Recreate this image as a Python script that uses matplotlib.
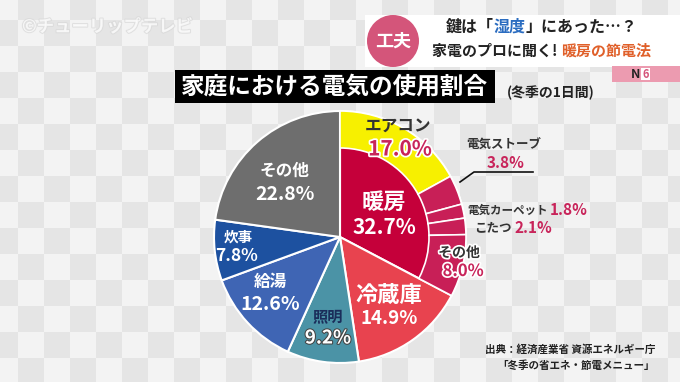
import matplotlib
matplotlib.use('Agg')
import matplotlib.pyplot as plt
import matplotlib.patheffects as pe
from matplotlib.patches import Rectangle, Circle
import numpy as np

plt.rcParams['font.family'] = ['Noto Sans CJK JP', 'DejaVu Sans']
plt.rcParams['font.weight'] = 'bold'

# Data
main_labels = ['暖房', '冷蔵庫', '照明', '給湯', '炊事', 'その他']
main_values = [32.7, 14.9, 9.2, 12.6, 7.8, 22.8]
main_colors = ['#c5003a', '#e8434f', '#4b93a6', '#3f65b4', '#1d51a0', '#6e6e6e']

heat_labels = ['エアコン', '電気ストーブ', '電気カーペット', 'こたつ', 'その他']
heat_values = [17.0, 3.8, 1.8, 2.1, 8.0]
heat_colors = ['#f7f000', '#c81f57', '#c81f57', '#c81f57', '#c81f57']

W, H = 680, 382
MAGENTA = '#c8245a'
DARK = '#333333'


def Y(y):
    # image row -> data y
    return H - y


fig = plt.figure(figsize=(6.8, 3.82), dpi=100)
ax = fig.add_axes([0, 0, 1, 1])

# checker background
sq = 26
ny, nx = H // sq + 2, W // sq + 2
chk = (np.indices((ny, nx)).sum(axis=0) % 2).astype(float)
ax.imshow(chk, cmap=matplotlib.colors.ListedColormap(['#f3f3f3', '#e5e5e5']),
          extent=(-8, -8 + nx * sq, H + 6 - ny * sq, H + 6), origin='upper',
          interpolation='nearest', zorder=0)

# Pie
cx, cy, R = 340, Y(237), 126
r_in = 89
ax.pie(main_values, colors=main_colors, startangle=90, counterclock=False,
       radius=R, center=(cx, cy),
       wedgeprops=dict(edgecolor='white', linewidth=1.5))
rest = 100 - sum(heat_values)
ring, _ = ax.pie(heat_values + [rest], colors=heat_colors + ['none'],
                 startangle=90, counterclock=False, radius=R, center=(cx, cy),
                 wedgeprops=dict(width=R - r_in, edgecolor='white', linewidth=1.2))
ring[-1].set_visible(False)

ax.set_xlim(0, W)
ax.set_ylim(0, H)
ax.set_aspect('auto')
ax.axis('off')

white_outline = [pe.withStroke(linewidth=2.5, foreground='white')]
dark_outline = [pe.withStroke(linewidth=1.5, foreground='#444444')]


def t(x, y, s, size, color, ha='center', effects=None, **kw):
    return ax.text(x, Y(y), s, fontsize=size, color=color, ha=ha, va='center',
                   fontweight='bold', path_effects=effects, zorder=5, **kw)


# labels inside pie
t(398, 126, heat_labels[0], 12, DARK)
t(400, 149, f'{heat_values[0]:.1f}%', 15, MAGENTA, effects=white_outline)
t(384, 202, main_labels[0], 16, 'white')
t(384, 227, f'{main_values[0]:.1f}%', 15, 'white')
t(389, 295, main_labels[1], 16, 'white')
t(389, 318, f'{main_values[1]:.1f}%', 13.5, 'white')
t(328, 317, main_labels[2], 11, '#1a2d5a')
t(328, 338, f'{main_values[2]:.1f}%', 13.5, 'white', effects=dark_outline)
t(270, 282, main_labels[3], 12, 'white')
t(270, 304, f'{main_values[3]:.1f}%', 14, 'white')
t(238, 237, main_labels[4], 10.5, 'white')
t(236, 256, f'{main_values[4]:.1f}%', 12.5, 'white')
t(284, 171, main_labels[5], 12, 'white')
t(285, 194, f'{main_values[5]:.1f}%', 14, 'white')
t(459, 253, heat_labels[4], 10, DARK, effects=white_outline)
t(463, 271, f'{heat_values[4]:.1f}%', 12, MAGENTA, effects=white_outline)

# labels outside
t(504, 145, heat_labels[1], 9, DARK)
t(506, 163, f'{heat_values[1]:.1f}%', 11, MAGENTA)
ax.plot([460, 474, 533], [Y(182), Y(172), Y(172)], color='#111111', lw=1.2, zorder=5)

fig.canvas.draw()
renderer = fig.canvas.get_renderer()


def segments(x, y, parts, gap=0):
    for s, c, size in parts:
        txt = t(x, y, s, size, c, ha='left')
        bb = txt.get_window_extent(renderer=renderer)
        x += bb.width + gap


segments(467, 210, [(heat_labels[2], DARK, 8.3), (f'{heat_values[2]:.1f}%', MAGENTA, 11)], gap=2)
segments(474, 228, [(heat_labels[3], DARK, 9), (f'{heat_values[3]:.1f}%', MAGENTA, 11)], gap=3)

# title box
ax.add_patch(Rectangle((175, Y(103)), 320, 33, facecolor='black', zorder=4))
t(335, 87, '家庭における電気の使用割合', 17, 'white')
t(551, 93, '(冬季の1日間)', 10, '#222222')

# top-right banner
ax.add_patch(Rectangle((365, Y(67)), 315, 52, facecolor='white', zorder=4))
ax.add_patch(Circle((393, Y(41)), 26, facecolor='#d4557a', zorder=5))
t(393, 41, '工夫', 13, 'white')

segments(446, 27, [('鍵は「', '#222222', 11.5), ('湿度', '#2a6cc0', 11.5),
                   ('」にあった…？', '#222222', 11.5)])
segments(432, 51, [('家電のプロに聞く! ', '#222222', 10.8), ('暖房の節電法', '#e0602a', 10.8)])

# N6 tab
ax.add_patch(Rectangle((612, Y(82)), 68, 16, facecolor='#ec9bb0', zorder=4))
t(640, 74, 'N', 9, '#222222', ha='right')
ax.add_patch(Rectangle((641, Y(80)), 9, 12, facecolor='white', zorder=5))
t(645.5, 74, '6', 8, '#d4557a')

# watermark
t(22, 27, '©チューリップテレビ', 12.5, 'white', ha='left', alpha=0.7,
  effects=[pe.withStroke(linewidth=1.5, foreground='#d8d8d8')])

# source
t(655, 349, '出典：経済産業省 資源エネルギー庁', 7.6, '#222222', ha='right')
t(655, 366, '「冬季の省エネ・節電メニュー」', 7.6, '#222222', ha='right')

fig.savefig('out.png', dpi=100)
